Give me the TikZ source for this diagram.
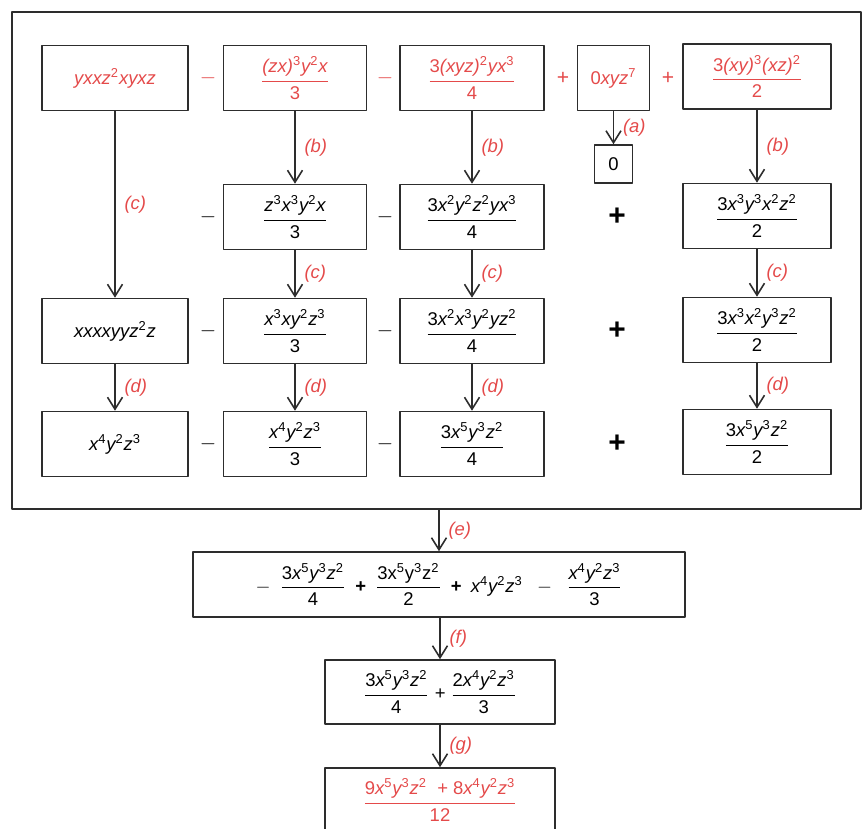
\documentclass[tikz,border=0pt]{standalone}
\usepackage{amsmath}
\usepackage{fontspec}
\setmainfont{Liberation Sans}
\usetikzlibrary{arrows.meta}
\definecolor{redink}{RGB}{228,74,74}
\definecolor{ink}{RGB}{45,45,45}
\newcommand{\su}[1]{\textsuperscript{\upshape#1}}
\newcommand{\up}[1]{\textup{#1}}
\newcommand{\fr}[2]{$\displaystyle\frac{\text{#1}}{\text{#2}}$}
\begin{document}
\begin{tikzpicture}[line join=round, >={Straight Barb[length=0.24cm,width=0.3cm]},
  font=\fontsize{10.5}{12}\selectfont\itshape,
  term/.style={draw=ink, line width=0.9pt, minimum height=1.3cm, inner sep=2pt},
  given/.style={term, text=redink},
  arr/.style={->, draw=ink, line width=0.9pt},
  lbl/.style={midway, right, text=redink, inner sep=5pt},
  sgn/.style={font=\fontsize{12}{12}\selectfont},
  plus/.style={font=\fontsize{17}{17}\selectfont\bfseries}]
\useasboundingbox (0,0) rectangle (17.26,-16.56);
\def\cA{2.30} \def\cB{5.90} \def\cC{9.44} \def\cD{12.27} \def\cE{15.14}
\def\rI{-1.56} \def\rII{-4.34} \def\rIII{-6.62} \def\rIV{-8.88}
% frame round the four columns
\node[draw=ink, line width=0.9pt, minimum width=16.98cm, minimum height=9.94cm] (frame) at (8.73,-5.21) {};
% first row, as given
\node[given, minimum width=2.92cm] (A1) at (\cA,\rI) {yxxz\su2xyxz};
\node[given, minimum width=2.86cm] (B1) at (\cB,\rI) {\fr{(zx)\su3y\su2x}{\up3}};
\node[given, minimum width=2.88cm] (C1) at (\cC,\rI) {\fr{\up3(xyz)\su2yx\su3}{\up4}};
\node[given, minimum width=1.44cm] (D1) at (\cD,\rI) {\up0xyz\su7};
\node[given, minimum width=2.96cm] (E1) at (\cE,-1.53) {\fr{\up3(xy)\su3(xz)\su2}{\up2}};
\node[term, minimum width=0.76cm, minimum height=0.76cm] (D2) at (\cD,-3.28) {\up0};
\foreach \x/\s in {4.16/$-$, 7.70/$-$, 11.26/+, 13.36/+}
  \node[sgn, text=redink] (s1-\x) at (\x,\rI) {\upshape\s};
% second row
\node[term, minimum width=2.86cm] (B2) at (\cB,\rII) {\fr{z\su3x\su3y\su2x}{\up3}};
\node[term, minimum width=2.88cm] (C2) at (\cC,\rII) {\fr{\up3x\su2y\su2z\su2yx\su3}{\up4}};
\node[term, minimum width=2.96cm] (E2) at (\cE,-4.32) {\fr{\up3x\su3y\su3x\su2z\su2}{\up2}};
% third row
\node[term, minimum width=2.92cm] (A3) at (\cA,\rIII) {xxxxyyz\su2z};
\node[term, minimum width=2.86cm] (B3) at (\cB,\rIII) {\fr{x\su3xy\su2z\su3}{\up3}};
\node[term, minimum width=2.88cm] (C3) at (\cC,\rIII) {\fr{\up3x\su2x\su3y\su2yz\su2}{\up4}};
\node[term, minimum width=2.96cm] (E3) at (\cE,-6.60) {\fr{\up3x\su3x\su2y\su3z\su2}{\up2}};
% fourth row
\node[term, minimum width=2.92cm] (A4) at (\cA,\rIV) {x\su4y\su2z\su3};
\node[term, minimum width=2.86cm] (B4) at (\cB,\rIV) {\fr{x\su4y\su2z\su3}{\up3}};
\node[term, minimum width=2.88cm] (C4) at (\cC,\rIV) {\fr{\up3x\su5y\su3z\su2}{\up4}};
\node[term, minimum width=2.96cm] (E4) at (\cE,-8.84) {\fr{\up3x\su5y\su3z\su2}{\up2}};
\foreach \r in {\rII,\rIII,\rIV}{
  \node[sgn] (m1\r) at (4.16,\r) {$-$};
  \node[sgn] (m2\r) at (7.70,\r) {$-$};
  \node[plus] (p\r) at (12.34,\r) {+};
}
% steps
\foreach \a/\b/\l in {D1/D2/a, B1/B2/b, C1/C2/b, E1/E2/b, A1/A3/c, B2/B3/c, C2/C3/c, E2/E3/c,
                      A3/A4/d, B3/B4/d, C3/C4/d, E3/E4/d}
  \draw[arr] (\a.south) -- (\b.north) node[lbl] {(\l)};
% collecting
\node[term, minimum width=9.84cm] (F) at (8.78,-11.69)
  {$-$\enspace\fr{\up3x\su5y\su3z\su2}{\up4}\enspace\upshape\textbf{+}\enspace
   \fr{\up3x\su5y\su3z\su2}{\up2}\enspace\textbf{+}\enspace\itshape x\su4y\su2z\su3\enspace\ $-$\enspace\
   \fr{x\su4y\su2z\su3}{\up3}};
\node[term, minimum width=4.60cm, minimum height=1.28cm] (G) at (8.80,-13.84)
  {\fr{\up3x\su5y\su3z\su2}{\up4} + \fr{\up2x\su4y\su2z\su3}{\up3}};
\node[term, text=redink, minimum width=4.60cm, minimum height=1.28cm] (H) at (8.80,-16.00)
  {\fr{\up9x\su5y\su3z\su2 \ +\ \up8x\su4y\su2z\su3}{\up{12}}};
\draw[arr] (frame.south -| F.north) -- (F.north) node[lbl] {(e)};
\draw[arr] (F.south -| G.north) -- (G.north) node[lbl] {(f)};
\draw[arr] (G) -- (H) node[lbl] {(g)};
\end{tikzpicture}
\end{document}
